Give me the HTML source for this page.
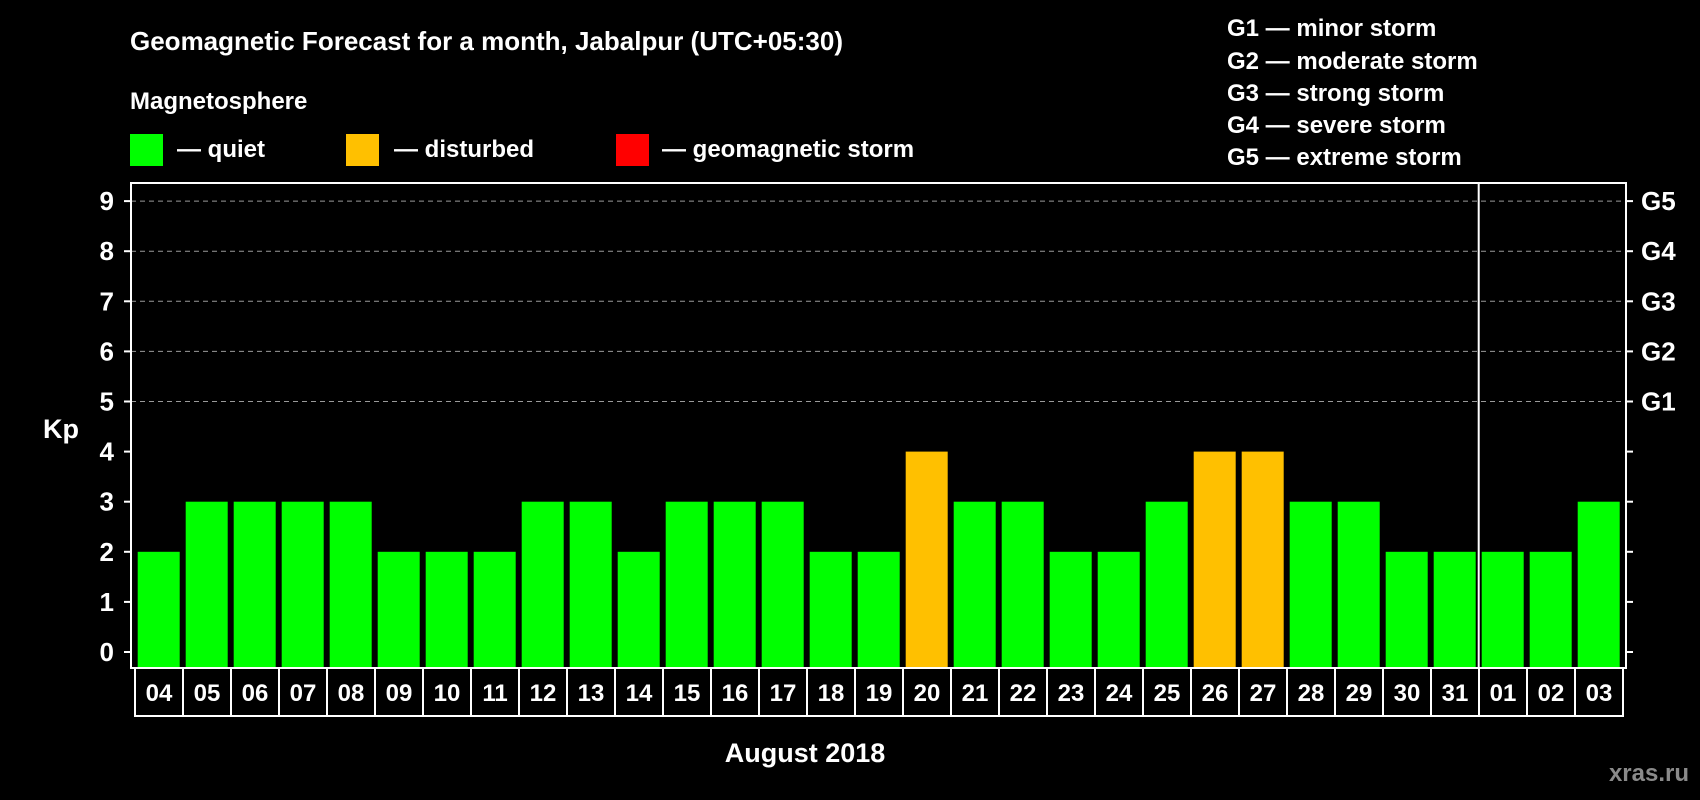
<!DOCTYPE html>
<html><head><meta charset="utf-8"><style>
html,body{margin:0;padding:0;background:#000;}
svg{display:block;font-family:"Liberation Sans",Arial,sans-serif;font-weight:bold;}
</style></head><body>
<svg id="chart" width="1700" height="800" viewBox="0 0 1700 800">
<rect x="0" y="0" width="1700" height="800" fill="#000"/>
<text x="130" y="50" fill="#fff" font-size="26">Geomagnetic Forecast for a month, Jabalpur (UTC+05:30)</text>
<text x="130" y="109" fill="#fff" font-size="24">Magnetosphere</text>
<g>
<rect x="130" y="134" width="33" height="32" fill="#00ff00"/>
<text x="177" y="157" fill="#fff" font-size="24">— quiet</text>
<rect x="346" y="134" width="33" height="32" fill="#ffc000"/>
<text x="394" y="157" fill="#fff" font-size="24">— disturbed</text>
<rect x="616" y="134" width="33" height="32" fill="#ff0000"/>
<text x="662" y="157" fill="#fff" font-size="24">— geomagnetic storm</text>
</g>
<g fill="#fff" font-size="24">
<text x="1227" y="36">G1 — minor storm</text>
<text x="1227" y="69">G2 — moderate storm</text>
<text x="1227" y="101">G3 — strong storm</text>
<text x="1227" y="133">G4 — severe storm</text>
<text x="1227" y="165">G5 — extreme storm</text>
</g>
<text x="43" y="438" fill="#fff" font-size="27">Kp</text>
<text x="805" y="762" fill="#fff" font-size="27" text-anchor="middle">August 2018</text>
<text x="1689" y="781" fill="#8a8a8a" font-size="24" text-anchor="end">xras.ru</text>
<g id="plot"></g>
</svg>
<script>
const days = ["04","05","06","07","08","09","10","11","12","13","14","15","16","17","18","19","20","21","22","23","24","25","26","27","28","29","30","31","01","02","03"];
const kp = [2,3,3,3,3,2,2,2,3,3,2,3,3,3,2,2,4,3,3,2,2,3,4,4,3,3,2,2,2,2,3];
const yTicks = [0,1,2,3,4,5,6,7,8,9];
const gLabels = ["G1","G2","G3","G4","G5"];
const gLevels = [5,6,7,8,9];
const monthBreakIndex = 28;

const NS = "http://www.w3.org/2000/svg";
const plot = document.getElementById("plot");
const L = 131, R = 1626, T = 183, B = 668;
const x0 = 137.7, pitch = 48, bw = 42;
function yS(v){ return 652 - v * 50.1; }
function xS(i){ return x0 + i * pitch; }
function mk(tag, attrs){ const e = document.createElementNS(NS, tag); for (const k in attrs) e.setAttribute(k, attrs[k]); plot.appendChild(e); return e; }
function color(v){ return v >= 5 ? "#ff0000" : (v >= 4 ? "#ffc000" : "#00ff00"); }

gLevels.forEach((g, i) => {
  const ln = mk("line", {x1: L, x2: R, y1: yS(g), y2: yS(g), stroke: "#9a9a9a", "stroke-width": 1, "stroke-dasharray": "5,4"});
  
  
});

kp.forEach((v, i) => {
  const r = mk("rect", {x: xS(i), y: yS(v), width: bw, height: B - yS(v), fill: color(v)});
  
  
});

const sep = mk("line", {x1: xS(monthBreakIndex) - 3, x2: xS(monthBreakIndex) - 3, y1: T, y2: B, stroke: "#fff", "stroke-width": 2});



const frame = mk("rect", {x: L, y: T, width: R - L, height: B - T, fill: "none", stroke: "#fff", "stroke-width": 2});



yTicks.forEach(t => {
  const a = mk("line", {x1: L - 7, x2: L, y1: yS(t), y2: yS(t), stroke: "#fff", "stroke-width": 2});
  
  
  const b = mk("line", {x1: R, x2: R + 7, y1: yS(t), y2: yS(t), stroke: "#fff", "stroke-width": 2});
  
  
  const tx = mk("text", {x: 114, y: yS(t) + 9, fill: "#fff", "font-size": 26, "text-anchor": "end"});
  tx.textContent = t;
  
  
});

gLabels.forEach((g, i) => {
  const tx = mk("text", {x: 1641, y: yS(gLevels[i]) + 9, fill: "#fff", "font-size": 26});
  tx.textContent = g;
  
  
});

days.forEach((d, i) => {
  const cx = xS(i) - 2.7;
  const c = mk("rect", {x: cx, y: B, width: pitch, height: 48, fill: "none", stroke: "#fff", "stroke-width": 2});
  
  
  const tx = mk("text", {x: cx + pitch / 2, y: B + 33, fill: "#fff", "font-size": 24, "text-anchor": "middle"});
  tx.textContent = d;
  
  
});
</script>
</body></html>
